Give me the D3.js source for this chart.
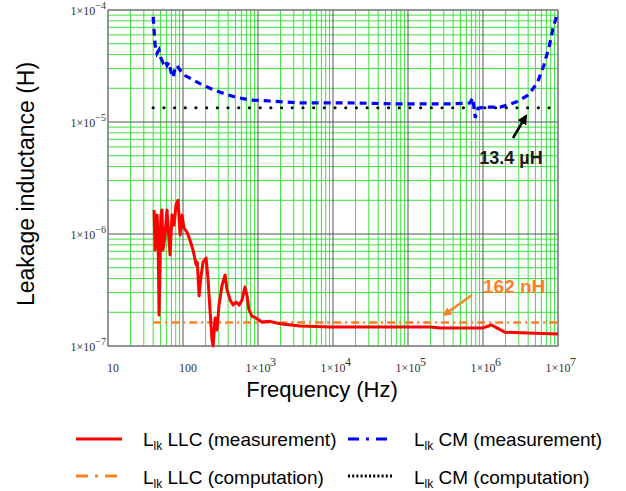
<!DOCTYPE html>
<html>
<head>
<meta charset="utf-8">
<title>Leakage inductance</title>
<script src="https://d3js.org/d3.v7.min.js"></script>
<style>
  body { margin: 0; background: #fff; }
  svg text { font-family: 'Liberation Sans', Arial, sans-serif; }
  .tick-label { font-family: 'Liberation Serif', 'Times New Roman', serif; font-size: 12px; fill: #333; }
</style>
</head>
<body>
<script>
// frequency (Hz) and inductance (H)
var cmMeasF = [40, 41.1, 42.4, 45, 47.9, 50.9, 54.1, 57.6, 61.2, 65.1, 69.2, 73.6, 78.3, 83.3, 91.4,
  106.6, 132, 169, 229, 332, 494, 785, 1445, 3620, 1.68e4, 7.81e4, 3.63e5, 6.7e5, 7.3e5, 7.9e5,
  8.6e5, 1.07e6, 1.7e6, 2.34e6, 2.95e6, 4.0e6, 5.3e6, 6.5e6, 7.7e6, 8.6e6, 9.7e6];
var cmMeasL = [8.7e-5, 6.6e-5, 4.9e-5, 4.1e-5, 4.4e-5, 3.7e-5, 3.4e-5, 3.6e-5, 3.2e-5, 3.4e-5, 2.8e-5,
  2.5e-5, 3.0e-5, 3.2e-5, 2.9e-5, 2.6e-5, 2.4e-5, 2.2e-5, 2.0e-5, 1.82e-5, 1.67e-5, 1.57e-5, 1.54e-5,
  1.48e-5, 1.48e-5, 1.45e-5, 1.45e-5, 1.48e-5, 1.64e-5, 1.09e-5, 1.33e-5, 1.36e-5, 1.36e-5, 1.45e-5,
  1.54e-5, 1.74e-5, 2.23e-5, 3.23e-5, 4.87e-5, 6.9e-5, 9.0e-5];

var llcMeasF = [41.1, 42.4, 45, 46.4, 47.9, 49.4, 50.9, 52.4, 54.1, 57.6, 61.2, 65.1, 67.2, 71.4, 75.9,
  80.7, 85.8, 91.4, 97.1, 103, 113, 124, 136, 150, 155, 164, 174, 185, 203, 216, 229, 244, 252, 268,
  284, 302, 332, 364, 387, 425, 466, 510, 559, 612, 670, 712, 757, 829, 935, 1130, 1445, 1960, 3620,
  9100, 1.98e5, 2.69e5, 1.0e6, 1.16e6, 1.3e6, 1.53e6, 1.95e6, 3.12e6, 1e7];
var llcMeasL = [1.64e-6, 7.2e-7, 1.48e-6, 1.09e-6, 1.89e-7, 4.8e-7, 1.48e-6, 1.64e-6, 7.2e-7, 9.8e-7,
  1.64e-6, 8.8e-7, 6.5e-7, 1.48e-6, 1.2e-6, 1.82e-6, 2.0e-6, 9.8e-7, 1.48e-6, 1.13e-6, 1.04e-6, 8.8e-7,
  7.2e-7, 5.3e-7, 5.6e-7, 2.8e-7, 4.2e-7, 5.6e-7, 6.1e-7, 3.9e-7, 2.1e-7, 1.13e-7, 1.0e-7, 1.78e-7,
  1.39e-7, 2.32e-7, 3.5e-7, 4.3e-7, 3.16e-7, 2.58e-7, 2.32e-7, 2.47e-7, 2.32e-7, 2.58e-7, 3.36e-7,
  2.85e-7, 2.1e-7, 1.85e-7, 1.78e-7, 1.64e-7, 1.66e-7, 1.58e-7, 1.51e-7, 1.48e-7, 1.48e-7, 1.45e-7,
  1.45e-7, 1.5e-7, 1.54e-7, 1.45e-7, 1.33e-7, 1.31e-7, 1.28e-7];

var compF = [40, 1e7];
var cmCompL = [1.34e-5, 1.34e-5];
var llcCompL = [1.62e-7, 1.62e-7];

var xTicks = [10, 100, 1e3, 1e4, 1e5, 1e6, 1e7];
var yTicks = [1e-7, 1e-6, 1e-5, 1e-4];

var legendItems = [
  {name: 'LLC (measurement)', color: '#ff0000', dash: null, col: 0, row: 0},
  {name: 'CM (measurement)', color: '#0000ff', dash: '11,7,3,7', col: 1, row: 0},
  {name: 'LLC (computation)', color: '#ff7f27', dash: '12,7,3,7', col: 0, row: 1},
  {name: 'CM (computation)', color: '#000000', dash: '2,2.2', col: 1, row: 1}
];

var W = 626, H = 491;
var svg = d3.select('body').append('svg').attr('width', W).attr('height', H);

var x = d3.scaleLog().domain([10, 1e7]).range([108, 558]);
var y = d3.scaleLog().domain([1e-7, 1e-4]).range([346, 10]);

// minor grid
var minorX = [], minorY = [];
for (var d = 10; d < 1e7; d *= 10)
  for (var k = 2; k <= 9; k++) minorX.push(d * k);
for (var d2 = 1e-7; d2 < 1e-4 * 0.99; d2 *= 10)
  for (var k2 = 2; k2 <= 9; k2++) minorY.push(d2 * k2);

var grid = svg.append('g');
grid.selectAll('.mx').data(minorX).enter().append('line')
  .attr('x1', d => x(d)).attr('x2', d => x(d)).attr('y1', 10).attr('y2', 346)
  .attr('stroke', '#3fe03f').attr('stroke-width', 1);
grid.selectAll('.my').data(minorY).enter().append('line')
  .attr('y1', d => y(d)).attr('y2', d => y(d)).attr('x1', 108).attr('x2', 558)
  .attr('stroke', '#3fe03f').attr('stroke-width', 1);
grid.selectAll('.Mx').data(xTicks).enter().append('line')
  .attr('x1', d => x(d)).attr('x2', d => x(d)).attr('y1', 10).attr('y2', 346)
  .attr('stroke', '#555').attr('stroke-width', 1);
grid.selectAll('.My').data(yTicks).enter().append('line')
  .attr('y1', d => y(d)).attr('y2', d => y(d)).attr('x1', 108).attr('x2', 558)
  .attr('stroke', '#555').attr('stroke-width', 1);
svg.append('rect').attr('x', 108).attr('y', 10).attr('width', 450).attr('height', 336)
  .attr('fill', 'none').attr('stroke', '#888').attr('stroke-width', 1.2);

// tick labels
var supExp = function(v) { return Math.round(Math.log10(v)); };
xTicks.forEach(function(t) {
  if (t < 1000) {
    svg.append('text').attr('class', 'tick-label').attr('font-size', 13)
      .attr('x', x(t) + 5).attr('y', 372).attr('text-anchor', 'middle').text(t);
  } else {
    // base "1×10" centred on the tick, exponent hangs to the right
    svg.append('text').attr('class', 'tick-label')
      .attr('x', x(t)).attr('y', 372).attr('text-anchor', 'middle').text('1\u00d710');
    svg.append('text').attr('class', 'tick-label').attr('font-size', 10)
      .attr('x', x(t) + 12).attr('y', 366).text(supExp(t));
  }
});
yTicks.forEach(function(t) {
  var txt = svg.append('text').attr('class', 'tick-label')
    .attr('x', 106).attr('y', y(t) + 5).attr('text-anchor', 'end');
  txt.append('tspan').text('1\u00d710');
  txt.append('tspan').attr('dy', -6).attr('font-size', 10).text('\u2212' + Math.abs(supExp(t)));
});

// axis titles
svg.append('text').attr('x', 322).attr('y', 397).attr('text-anchor', 'middle')
  .attr('font-size', 22).attr('fill', '#000').text('Frequency (Hz)');
svg.append('text').attr('transform', 'translate(34,184) rotate(-90)').attr('text-anchor', 'middle')
  .attr('font-size', 23).attr('fill', '#000').text('Leakage inductance (H)');

var line = function(fs, ls) {
  return d3.line().x(function(d, i) { return x(fs[i]); }).y(function(d, i) { return y(ls[i]); })(fs);
};

var plot = svg.append('g');
plot.append('path').attr('d', line(compF, llcCompL)).attr('fill', 'none')
  .attr('stroke', '#ff7f27').attr('stroke-width', 2.5).attr('stroke-dasharray', '8,4,2,4');
plot.append('path').attr('d', line(compF, cmCompL)).attr('fill', 'none')
  .attr('stroke', '#000').attr('stroke-width', 3.2).attr('stroke-linecap', 'round')
  .attr('stroke-dasharray', '0,10.7');
plot.append('path').attr('d', line(llcMeasF, llcMeasL)).attr('fill', 'none')
  .attr('stroke', '#ff0000').attr('stroke-width', 3).attr('stroke-linejoin', 'round');
plot.append('path').attr('d', line(cmMeasF, cmMeasL)).attr('fill', 'none')
  .attr('stroke', '#0000ff').attr('stroke-width', 3.2).attr('stroke-dasharray', '7,5');

// annotations
var defs = svg.append('defs');
[['ahBlack', '#000'], ['ahOrange', '#ff7f27']].forEach(function(m) {
  defs.append('marker').attr('id', m[0]).attr('viewBox', '0 0 10 10').attr('refX', 8).attr('refY', 5)
    .attr('markerWidth', 4).attr('markerHeight', 4).attr('orient', 'auto')
    .append('path').attr('d', 'M0,0L10,5L0,10z').attr('fill', m[1]);
});
svg.append('line').attr('x1', 513).attr('y1', 138).attr('x2', 526).attr('y2', 116)
  .attr('stroke', '#000').attr('stroke-width', 2.5).attr('marker-end', 'url(#ahBlack)');
svg.append('text').attr('x', 511).attr('y', 164).attr('text-anchor', 'middle')
  .attr('font-size', 18).attr('font-weight', 'bold').attr('fill', '#1a1a1a').text('13.4 \u00b5H');
svg.append('line').attr('x1', 472).attr('y1', 295).attr('x2', 444).attr('y2', 315)
  .attr('stroke', '#ff7f27').attr('stroke-width', 2.2).attr('marker-end', 'url(#ahOrange)');
svg.append('text').attr('x', 483).attr('y', 293)
  .attr('font-size', 19).attr('font-weight', 'bold').attr('fill', '#ff7f27').text('162 nH');

// legend
var lg = svg.append('g');
legendItems.forEach(function(it) {
  var lx = it.col ? 348 : 76, ty = it.row ? 484 : 446, ly = it.row ? 476 : 439;
  lg.append('line').attr('x1', lx).attr('x2', lx + 46).attr('y1', ly).attr('y2', ly)
    .attr('stroke', it.color).attr('stroke-width', 3).attr('stroke-dasharray', it.dash);
  var t = lg.append('text').attr('x', it.col ? 414 : 143).attr('y', ty).attr('font-size', 19).attr('fill', '#000');
  t.append('tspan').text('L');
  t.append('tspan').attr('dy', 4).attr('font-size', 12).text('lk');
  t.append('tspan').attr('dy', -4).text(' ' + it.name);
});
</script>
</body>
</html>
